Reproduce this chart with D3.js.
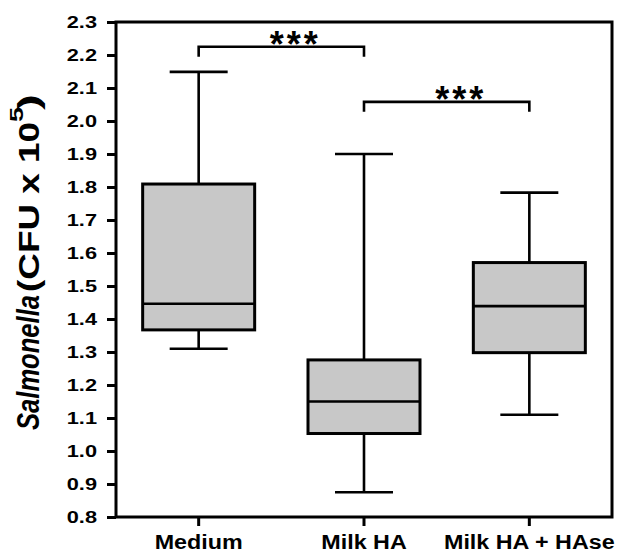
<!DOCTYPE html>
<html>
<head>
<meta charset="utf-8">
<script src="https://cdn.jsdelivr.net/npm/d3@7"></script>
<style>
  body { margin: 0; background: #fff; }
  svg { display: block; font-family: "Liberation Sans", Arial, sans-serif; }
</style>
</head>
<body>
<svg width="619" height="553"></svg>
<script>
// values (CFU x 10^5)
const categories = ['Medium', 'Milk HA', 'Milk HA + HAse'];
const whiskerLow = [1.31, 0.875, 1.11];
const q1 = [1.367, 1.053, 1.298];
const median = [1.446, 1.15, 1.439];
const q3 = [1.809, 1.276, 1.571];
const whiskerHigh = [2.149, 1.90, 1.783];
const yTicks = [0.8, 0.9, 1.0, 1.1, 1.2, 1.3, 1.4, 1.5, 1.6, 1.7, 1.8, 1.9, 2.0, 2.1, 2.2, 2.3];

// significance brackets: from group, to group, height, label
const brackets = [
  { from: 0, to: 1, y: 2.225, label: '***' },
  { from: 1, to: 2, y: 2.058, label: '***' }
];

const svg = d3.select('svg');
const plotL = 116, plotR = 612, plotT = 22, plotB = 517;

const x = d3.scaleBand().domain(categories).range([plotL, plotR]).padding(0);
const y = d3.scaleLinear().domain([0.8, 2.3]).range([plotB, plotT]);
const cx = i => x(categories[i]) + x.bandwidth() / 2;

const boxHalf = 56, capHalf = 29;

const data = categories.map((c, i) => ({
  c, lo: whiskerLow[i], q1: q1[i], med: median[i], q3: q3[i], hi: whiskerHigh[i], i
}));

const g = svg.append('g');

// whiskers
g.selectAll('.whisker').data(data).enter().append('g')
  .attr('class', 'whisker')
  .each(function(d) {
    const s = d3.select(this);
    const xc = cx(d.i);
    s.append('line').attr('x1', xc).attr('x2', xc).attr('y1', y(d.hi)).attr('y2', y(d.lo));
    s.append('line').attr('x1', xc - capHalf).attr('x2', xc + capHalf).attr('y1', y(d.hi)).attr('y2', y(d.hi));
    s.append('line').attr('x1', xc - capHalf).attr('x2', xc + capHalf).attr('y1', y(d.lo)).attr('y2', y(d.lo));
  })
  .selectAll('line')
  .attr('stroke', '#000')
  .attr('stroke-width', 2.6);

// boxes
g.selectAll('.box').data(data).enter().append('rect')
  .attr('class', 'box')
  .attr('x', d => cx(d.i) - boxHalf)
  .attr('width', boxHalf * 2)
  .attr('y', d => y(d.q3))
  .attr('height', d => y(d.q1) - y(d.q3))
  .attr('fill', '#c8c8c8')
  .attr('stroke', '#000')
  .attr('stroke-width', 3);

g.selectAll('.median').data(data).enter().append('line')
  .attr('class', 'median')
  .attr('x1', d => cx(d.i) - boxHalf)
  .attr('x2', d => cx(d.i) + boxHalf)
  .attr('y1', d => y(d.med))
  .attr('y2', d => y(d.med))
  .attr('stroke', '#000')
  .attr('stroke-width', 2.6);

// frame
svg.append('rect')
  .attr('x', plotL).attr('y', plotT)
  .attr('width', plotR - plotL).attr('height', plotB - plotT)
  .attr('fill', 'none').attr('stroke', '#000').attr('stroke-width', 3);

// axes
const yAxis = svg.append('g')
  .attr('transform', `translate(${plotL},0)`)
  .call(d3.axisLeft(y).tickValues(yTicks).tickFormat(d3.format('.1f')).tickSize(9).tickSizeOuter(0));
yAxis.select('.domain').remove();
yAxis.selectAll('line').attr('stroke', '#000').attr('stroke-width', 3);
yAxis.selectAll('text')
  .attr('x', null)
  .attr('transform', 'translate(-19,0) scale(1.28,1)')
  .attr('fill', '#000')
  .style('font-size', '17px')
  .style('font-weight', 'bold')
  .attr('font-family', null);

const xAxis = svg.append('g')
  .attr('transform', `translate(0,${plotB})`)
  .call(d3.axisBottom(x).tickSize(9).tickSizeOuter(0));
xAxis.select('.domain').remove();
xAxis.selectAll('line').attr('stroke', '#000').attr('stroke-width', 3);
xAxis.selectAll('text')
  .attr('y', null).attr('dy', null)
  .attr('transform', 'translate(0,32) scale(1.11,1)')
  .attr('fill', '#000')
  .style('font-size', '21px')
  .style('font-weight', 'bold')
  .attr('font-family', null);

// y label, drawn in pieces to fit the figure's proportions
const yLab = svg.append('g').attr('transform', 'translate(39,0) rotate(-90)');
const labBits = [
  { t: 'Salmonella', at: -430, len: 135, size: 31, italic: true, dy: 0 },
  { t: '(CFU x 10', at: -292, len: 170, size: 30, italic: false, dy: 0 },
  { t: '5', at: -122, len: 15, size: 19, italic: false, dy: -16 },
  { t: ')', at: -110, len: 16, size: 30, italic: false, dy: 0 }
];
yLab.selectAll('text').data(labBits).enter().append('text')
  .attr('x', d => d.at)
  .attr('y', d => d.dy)
  .attr('textLength', d => d.len)
  .attr('lengthAdjust', 'spacingAndGlyphs')
  .style('font-size', d => d.size + 'px')
  .style('font-weight', 'bold')
  .style('font-style', d => d.italic ? 'italic' : 'normal')
  .text(d => d.t);

// significance brackets
const br = svg.selectAll('.bracket').data(brackets).enter().append('g').attr('class', 'bracket');
br.append('path')
  .attr('d', d => `M${cx(d.from)},${y(d.y) + 10}V${y(d.y)}H${cx(d.to)}V${y(d.y) + 10}`)
  .attr('fill', 'none')
  .attr('stroke', '#000')
  .attr('stroke-width', 2.6);
br.append('text')
  .attr('x', d => (cx(d.from) + cx(d.to)) / 2 + 14)
  .attr('y', d => y(d.y) + 10)
  .attr('text-anchor', 'middle')
  .style('font-size', '36px')
  .style('font-weight', 'bold')
  .style('letter-spacing', '3px')
  .text(d => d.label);
</script>
</body>
</html>
